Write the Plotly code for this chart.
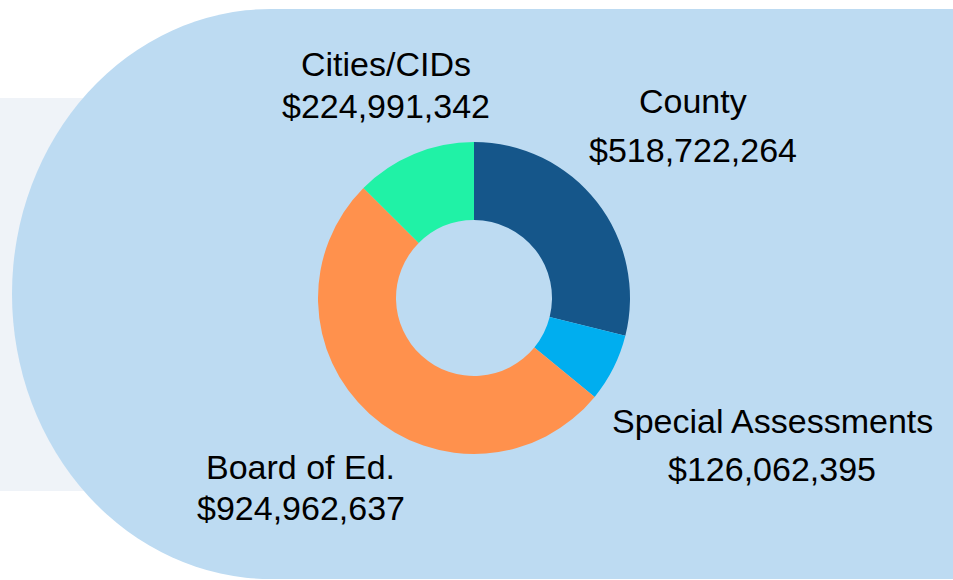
import plotly.graph_objects as go

# ---- data ----
categories = ["County", "Special Assessments", "Board of Ed.", "Cities/CIDs"]
values = [518722264, 126062395, 924962637, 224991342]
slice_colors = ["#15568A", "#00AEEF", "#FF914D", "#20F2A6"]

W, H = 953, 580

def px(x):
    return x / W

def py(y):
    return 1 - y / H

fig = go.Figure()

fig.add_trace(go.Pie(
    labels=categories,
    values=values,
    sort=False,
    direction="clockwise",
    rotation=0,
    hole=0.5,
    marker=dict(colors=slice_colors, line=dict(width=0)),
    textinfo="none",
    hoverinfo="label+value",
    domain=dict(x=[px(317), px(631)], y=[py(454), py(142)]),
    showlegend=False,
))

# label placement (centre of each text line, in pixels)
label_pos = {
    "County": ((693, 101), (693, 149.5)),
    "Special Assessments": ((772, 421), (772, 469)),
    "Board of Ed.": ((300, 466.5), (301, 507.5)),
    "Cities/CIDs": ((386, 63.5), (386, 105.5)),
}

annotations = []
for cat, val in zip(categories, values):
    (x1, y1), (x2, y2) = label_pos[cat]
    for txt, x, y in ((cat, x1, y1), (f"${val:,}", x2, y2)):
        annotations.append(dict(
            x=px(x), y=py(y), xref="paper", yref="paper",
            text=txt, showarrow=False,
            xanchor="center", yanchor="middle",
            font=dict(family="Liberation Sans, Arial, sans-serif", size=34, color="#000000"),
        ))

shapes = [
    # pale grey band on the left
    dict(type="rect", xref="paper", yref="paper", layer="below",
         x0=px(-5), x1=px(300), y0=py(491), y1=py(98),
         fillcolor="#EFF3F8", line=dict(width=0)),
    # large light-blue rounded panel
    dict(type="circle", xref="paper", yref="paper", layer="below",
         x0=px(12), x1=px(530), y0=py(579), y1=py(9),
         fillcolor="#BDDBF2", line=dict(width=0)),
    dict(type="rect", xref="paper", yref="paper", layer="below",
         x0=px(271), x1=px(990), y0=py(579), y1=py(9),
         fillcolor="#BDDBF2", line=dict(width=0)),
]

fig.update_layout(
    width=W, height=H,
    margin=dict(l=0, r=0, t=0, b=0),
    paper_bgcolor="#FFFFFF",
    plot_bgcolor="#FFFFFF",
    shapes=shapes,
    annotations=annotations,
    showlegend=False,
)

fig.write_html(
    "out.html",
    config={"displayModeBar": False},
    post_script="document.body.style.margin='0';document.body.style.overflow='hidden';",
)
